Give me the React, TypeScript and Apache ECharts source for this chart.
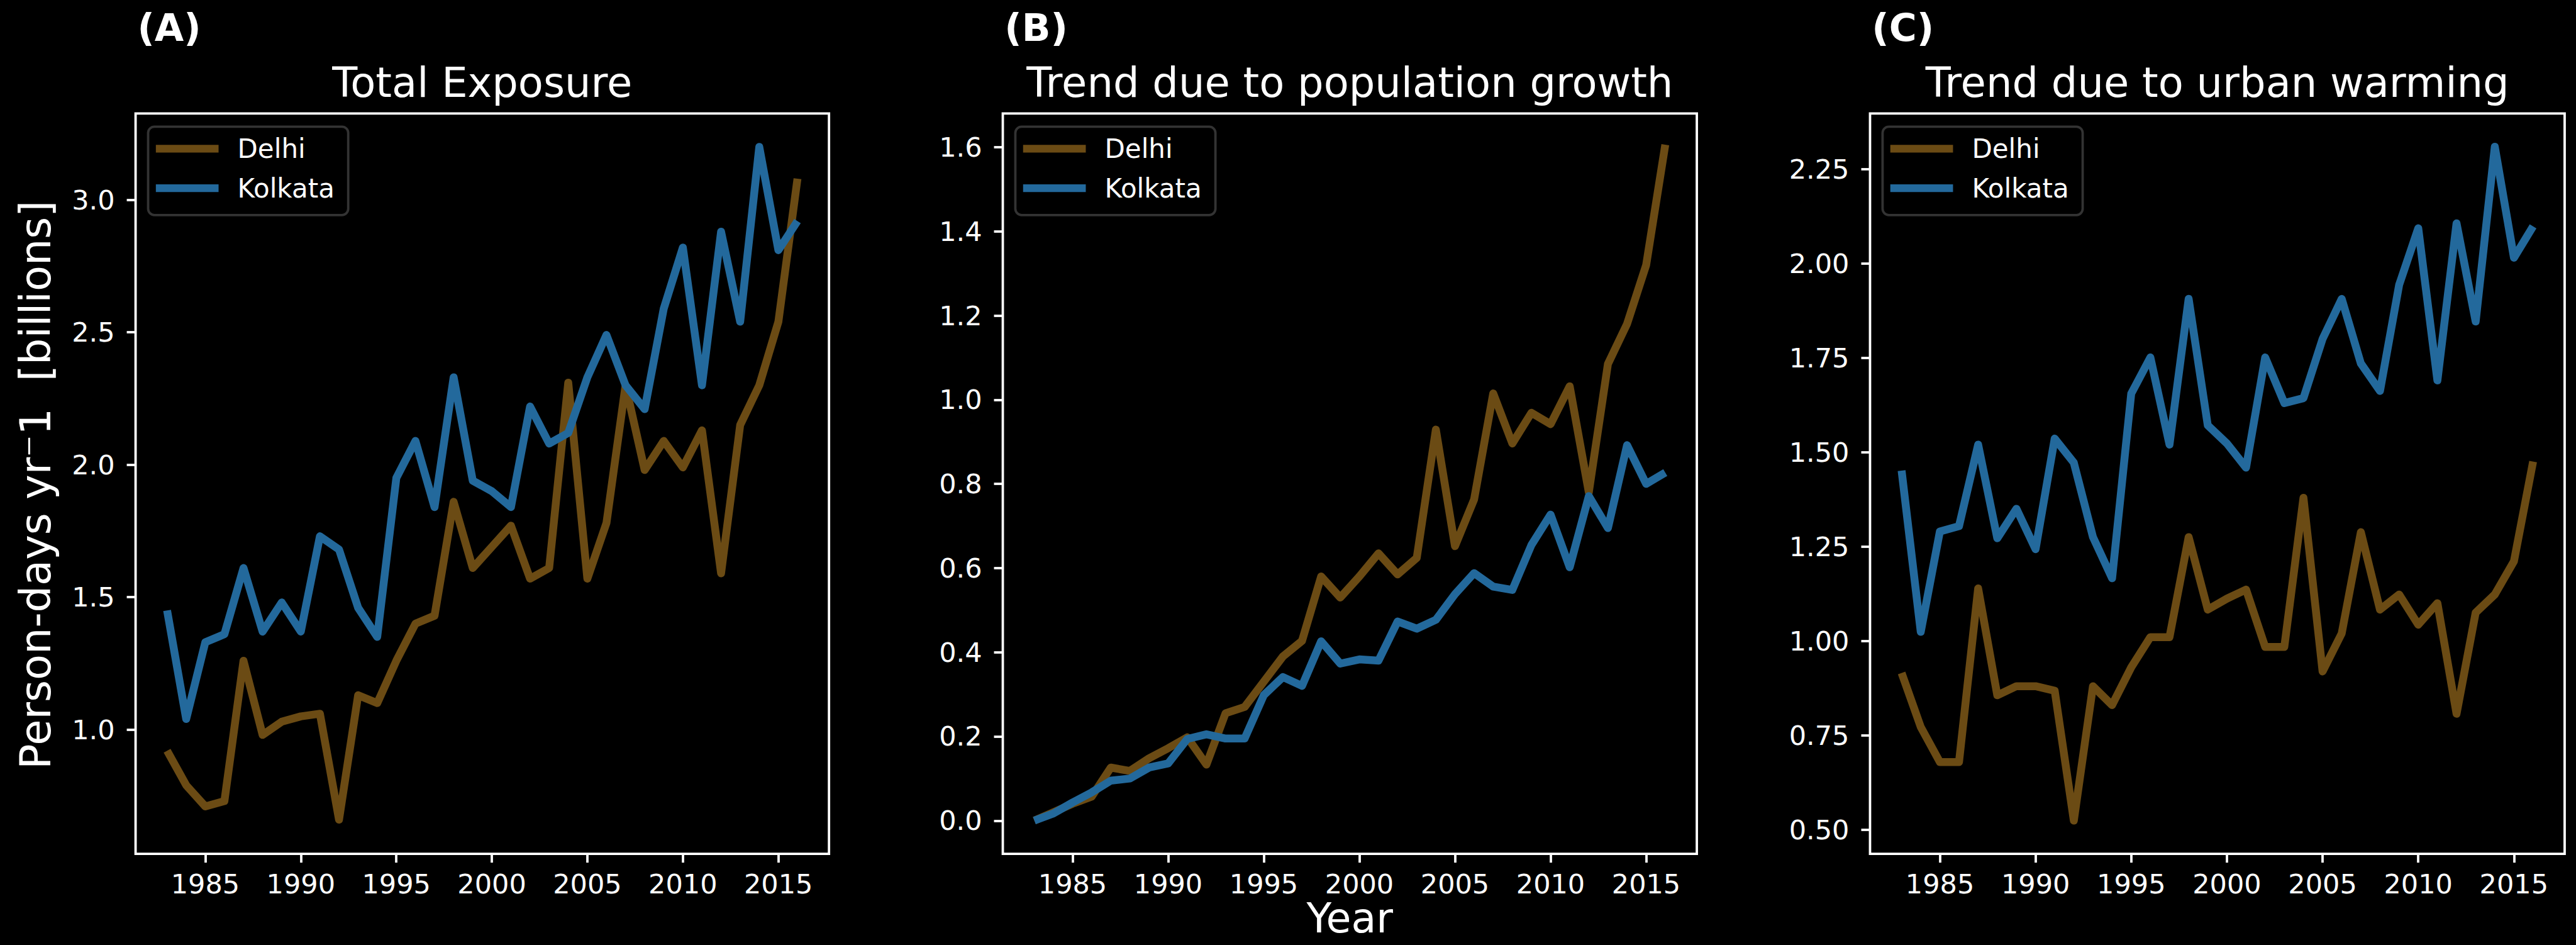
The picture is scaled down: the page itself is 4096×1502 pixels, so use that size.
import React, { useEffect, useRef } from "react";
import * as echarts from "echarts";

const years = [1983, 1984, 1985, 1986, 1987, 1988, 1989, 1990, 1991, 1992, 1993, 1994, 1995, 1996, 1997, 1998, 1999, 2000, 2001, 2002, 2003, 2004, 2005, 2006, 2007, 2008, 2009, 2010, 2011, 2012, 2013, 2014, 2015, 2016];

const delhiTotal = [0.92, 0.79, 0.71, 0.73, 1.26, 0.98, 1.03, 1.05, 1.06, 0.66, 1.13, 1.1, 1.26, 1.4, 1.43, 1.86, 1.61, 1.69, 1.77, 1.57, 1.61, 2.31, 1.57, 1.78, 2.3, 1.98, 2.09, 1.99, 2.13, 1.59, 2.15, 2.3, 2.54, 3.08];
const kolkataTotal = [1.45, 1.04, 1.33, 1.36, 1.61, 1.37, 1.48, 1.37, 1.73, 1.68, 1.46, 1.35, 1.95, 2.09, 1.84, 2.33, 1.94, 1.9, 1.84, 2.22, 2.08, 2.12, 2.33, 2.49, 2.3, 2.21, 2.59, 2.82, 2.3, 2.88, 2.54, 3.2, 2.81, 2.92];

const delhiPop = [0, 0.02, 0.04, 0.057, 0.126, 0.118, 0.148, 0.172, 0.198, 0.133, 0.255, 0.27, 0.33, 0.39, 0.427, 0.58, 0.53, 0.58, 0.635, 0.585, 0.624, 0.929, 0.652, 0.763, 1.015, 0.896, 0.969, 0.942, 1.032, 0.78, 1.085, 1.18, 1.32, 1.606];
const kolkataPop = [0, 0.017, 0.043, 0.067, 0.095, 0.1, 0.126, 0.136, 0.194, 0.205, 0.195, 0.195, 0.298, 0.341, 0.32, 0.426, 0.373, 0.383, 0.38, 0.473, 0.456, 0.477, 0.538, 0.588, 0.556, 0.548, 0.655, 0.727, 0.602, 0.771, 0.695, 0.892, 0.8, 0.827];

const delhiUrban = [0.915, 0.772, 0.679, 0.679, 1.139, 0.856, 0.88, 0.88, 0.868, 0.524, 0.88, 0.83, 0.93, 1.01, 1.01, 1.275, 1.083, 1.112, 1.136, 0.984, 0.984, 1.379, 0.919, 1.02, 1.288, 1.083, 1.123, 1.043, 1.1, 0.807, 1.075, 1.123, 1.211, 1.475];
const kolkataUrban = [1.451, 1.024, 1.29, 1.304, 1.52, 1.272, 1.35, 1.243, 1.536, 1.472, 1.275, 1.166, 1.655, 1.751, 1.52, 1.906, 1.571, 1.523, 1.459, 1.751, 1.63, 1.643, 1.8, 1.906, 1.735, 1.662, 1.943, 2.093, 1.69, 2.106, 1.846, 2.309, 2.015, 2.098];

const xTicks = [1985, 1990, 1995, 2000, 2005, 2010, 2015];
const yTicksA = [1.0, 1.5, 2.0, 2.5, 3.0];
const yTicksB = [0.0, 0.2, 0.4, 0.6, 0.8, 1.0, 1.2, 1.4, 1.6];
const yTicksC = [0.5, 0.75, 1.0, 1.25, 1.5, 1.75, 2.0, 2.25];

const titles = ["Total Exposure", "Trend due to population growth", "Trend due to urban warming"];
const panelLabels = ["(A)", "(B)", "(C)"];
const seriesNames = ["Delhi", "Kolkata"];
const yAxisTitle = "Person-days yr\u207B1\u00A0 [billions]";
const xAxisTitle = "Year";

const W = 4096;
const H = 1502;
const S = W / 4313;
const FONT = "'DejaVu Sans', 'Noto Sans', sans-serif";
const COLORS = ["#6b4b14", "#23699c"];

const boxes = [
  [227, 1388],
  [1679, 2841],
  [3131, 4294],
];
const BOX_TOP = 190;
const BOX_BOTTOM = 1429;
const yRanges = [
  [0.531, 3.326],
  [-0.079, 1.68],
  [0.436, 2.397],
];
const xRange = [1981.35, 2017.65];
const yDecimals = [1, 1, 2];
const yTicksAll = [yTicksA, yTicksB, yTicksC];
const panelData = [
  [delhiTotal, kolkataTotal],
  [delhiPop, kolkataPop],
  [delhiUrban, kolkataUrban],
];

function buildOption() {
  const grid: any[] = [];
  const xAxis: any[] = [];
  const yAxis: any[] = [];
  const series: any[] = [];
  const legend: any[] = [];
  const graphic: any[] = [];
  const lw = 3.8;

  boxes.forEach((b, i) => {
    const left = b[0] * S;
    const width = (b[1] - b[0]) * S;
    grid.push({
      left,
      top: BOX_TOP * S,
      width,
      height: (BOX_BOTTOM - BOX_TOP) * S,
      show: true,
      borderColor: "#ffffff",
      borderWidth: lw,
      backgroundColor: "transparent",
      containLabel: false,
    });
    xAxis.push({
      type: "value",
      gridIndex: i,
      position: "bottom",
      min: xRange[0],
      max: xRange[1],
      axisLine: { show: false, onZero: false },
      splitLine: { show: false },
      axisTick: {
        show: true,
        customValues: xTicks,
        length: 14,
        lineStyle: { color: "#ffffff", width: lw },
      },
      axisLabel: {
        customValues: xTicks,
        color: "#ffffff",
        fontSize: 43,
        fontFamily: FONT,
        margin: 26,
        formatter: (v: number) => String(v),
      },
    });
    const dec = yDecimals[i];
    yAxis.push({
      type: "value",
      gridIndex: i,
      position: "left",
      min: yRanges[i][0],
      max: yRanges[i][1],
      axisLine: { show: false, onZero: false },
      splitLine: { show: false },
      axisTick: {
        show: true,
        customValues: yTicksAll[i],
        length: 14,
        lineStyle: { color: "#ffffff", width: lw },
      },
      axisLabel: {
        customValues: yTicksAll[i],
        color: "#ffffff",
        fontSize: 43,
        fontFamily: FONT,
        margin: 33,
        formatter: (v: number) => v.toFixed(dec),
      },
    });
    panelData[i].forEach((vals, k) => {
      series.push({
        type: "line",
        name: seriesNames[k],
        xAxisIndex: i,
        yAxisIndex: i,
        data: years.map((y, j) => [y, vals[j]]),
        showSymbol: false,
        symbol: "none",
        silent: true,
        color: COLORS[k],
        lineStyle: { color: COLORS[k], width: 12.5, cap: "butt", join: "round" },
        emphasis: { disabled: true },
      });
    });
    legend.push({
      data: seriesNames,
      orient: "vertical",
      left: (b[0] + 21) * S,
      top: 212 * S,
      icon: "rect",
      itemWidth: 105 * S,
      itemHeight: 13 * S,
      itemGap: 20.7,
      padding: [14.1, 21.8, 21.7, 12.3],
      backgroundColor: "#000000",
      borderColor: "#333333",
      borderWidth: 3.8,
      borderRadius: 10,
      selectedMode: false,
      textStyle: {
        color: "#ffffff",
        fontSize: 42,
        lineHeight: 42,
        fontFamily: FONT,
        padding: [0, 0, 0, 25],
      },
    });
    graphic.push({
      type: "text",
      x: ((b[0] + b[1]) / 2) * S,
      y: 138 * S,
      silent: true,
      style: {
        text: titles[i],
        fill: "#ffffff",
        font: `${65.5}px ${FONT}`,
        textAlign: "center",
        textVerticalAlign: "middle",
      },
    });
    graphic.push({
      type: "text",
      x: (b[0] + 3) * S,
      y: 46.5 * S,
      silent: true,
      style: {
        text: panelLabels[i],
        fill: "#ffffff",
        font: `bold ${60}px ${FONT}`,
        textAlign: "left",
        textVerticalAlign: "middle",
      },
    });
  });

  graphic.push({
    type: "text",
    x: 60.5 * S,
    y: 811.5 * S,
    rotation: Math.PI / 2,
    silent: true,
    style: {
      text: yAxisTitle,
      fill: "#ffffff",
      font: `${67}px ${FONT}`,
      textAlign: "center",
      textVerticalAlign: "middle",
    },
  });
  graphic.push({
    type: "text",
    x: 2260 * S,
    y: 1459,
    silent: true,
    style: {
      text: xAxisTitle,
      fill: "#ffffff",
      font: `${65}px ${FONT}`,
      textAlign: "center",
      textVerticalAlign: "middle",
    },
  });

  return {
    animation: false,
    backgroundColor: "#000000",
    tooltip: { show: false },
    grid,
    xAxis,
    yAxis,
    series,
    legend,
    graphic,
  };
}

export default function App() {
  const ref = useRef<HTMLDivElement>(null);
  useEffect(() => {
    document.body.style.margin = "0";
    document.body.style.background = "#000";
    if (!ref.current) return;
    const chart = echarts.init(ref.current, null, { renderer: "svg", width: W, height: H });
    chart.setOption(buildOption() as any);
    return () => {
      chart.dispose();
    };
  }, []);
  return <div ref={ref} style={{ width: W, height: H, background: "#000" }} />;
}
